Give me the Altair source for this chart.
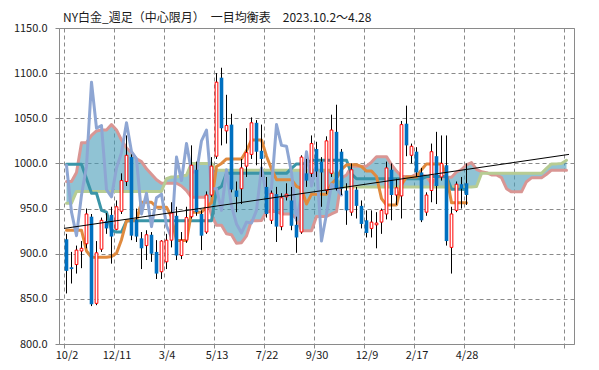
import altair as alt
import pandas as pd

title_text = "NY白金_週足（中心限月）　一目均衡表　2023.10.2～4.28"
x_tick_labels = ["10/2", "12/11", "3/4", "5/13", "7/22", "9/30", "12/9", "2/17", "4/28", "", ""]
y_ticks = [800, 850, 900, 950, 1000, 1050, 1100, 1150]

opens = [916, 885, 888, 903, 911, 941, 845, 905, 936, 943,
         927, 947, 980, 1007, 938, 917, 909, 921, 902, 880,
         891, 915, 942, 898, 915, 941, 993, 944, 924, 965,
         1008, 1095, 1036, 1043, 970, 972, 997, 1010, 1045, 1014,
         974, 937, 966, 930, 963, 959, 932, 924, 989, 989,
         1016, 1002, 970, 989, 1035, 1013, 970, 946, 971, 953,
         937, 928, 932, 935, 944, 993, 965, 964, 1044, 1009,
         1013, 990, 946, 970, 1008, 985, 998, 907, 948, 977,
         978]
highs = [922, 902, 909, 914, 950, 944, 914, 940, 945, 952,
         959, 989, 1031, 1010, 950, 924, 926, 924, 915, 915,
         922, 957, 952, 924, 952, 1020, 1002, 948, 969, 1007,
         1100, 1106, 1076, 1055, 980, 1005, 1039, 1051, 1048, 1043,
         985, 970, 974, 967, 978, 974, 941, 1009, 1005, 1031,
         1024, 1007, 1030, 1054, 1065, 1016, 978, 1000, 974, 959,
         948, 948, 946, 950, 1002, 1000, 983, 1047, 1064, 1022,
         1018, 995, 968, 1022, 1035, 1031, 1031, 952, 980, 985,
         1000]
lows = [856, 867, 878, 884, 906, 842, 843, 902, 922, 889,
        926, 944, 975, 915, 913, 883, 893, 891, 872, 872,
        883, 907, 893, 894, 912, 939, 942, 904, 922, 963,
        1005, 1020, 1022, 968, 946, 955, 985, 1005, 998, 985,
        940, 933, 913, 926, 959, 926, 901, 922, 974, 985,
        985, 952, 966, 985, 970, 965, 932, 942, 939, 928,
        918, 918, 906, 922, 938, 937, 954, 939, 1008, 1000,
        985, 935, 942, 957, 955, 981, 909, 878, 946, 950,
        954]
closes = [881, 883, 904, 906, 944, 844, 901, 937, 928, 919,
          952, 981, 1009, 920, 919, 906, 921, 900, 878, 914,
          915, 945, 898, 915, 940, 998, 946, 920, 965, 997,
          1090, 1039, 1042, 971, 963, 995, 1012, 1045, 1013, 1005,
          944, 967, 930, 962, 966, 931, 918, 1007, 981, 1022,
          991, 990, 1025, 1037, 972, 972, 948, 993, 953, 933,
          923, 935, 934, 948, 995, 965, 973, 1043, 1020, 1019,
          990, 937, 965, 1013, 975, 1000, 914, 944, 977, 972,
          965]

tenkan = [926, 926, 926, 926, 903, 896, 896, 896, 896, 897,
          900.5, 915.5, 936.5, 936.5, 937, 957, 957, 957, 951.5, 951.5,
          951.5, 941, 914.5, 914.5, 914.5, 946, 946, 946, 951.5, 956.5,
          996.5, 1000, 1005, 1005, 1005, 1005, 1014, 1026, 1026, 1026,
          1008, 994, 982, 982, 982, 982, 974.5, 972, 955, 966,
          966, 966, 966, 977.5, 983, 993.5, 998.5, 998.5, 998.5, 996.5,
          991.5, 991.5, 985.5, 961, 954, 954, 954, 976.5, 985, 985,
          985, 993, 999.5, 999.5, 999.5, 999.5, 986.5, 956.5, 956.5, 956.5,
          956.5]
kijun = [999, 999, 999, 999, 983, 967, 967, 948, 946, 926,
         924, 924, 936.5, 936.5, 936.5, 936.5, 936.5, 936.5, 936.5, 936.5,
         936.5, 936.5, 936.5, 936.5, 936.5, 936.5, 936.5, 936.5, 936.5, 936.5,
         971, 974.5, 989, 989, 989, 989, 989, 989, 989, 989,
         989, 989, 989, 989, 989, 994.5, 999.5, 999.5, 1000, 1003.5,
         1003.5, 1003.5, 1003.5, 1003.5, 1003.5, 1003.5, 1003.5, 988.5, 983, 983,
         983, 983, 983, 983, 983, 983, 983, 983, 983, 983,
         983, 983, 985.5, 985.5, 985.5, 985.5, 985.5, 971.5, 971.5, 971.5,
         971]
chikou = [998, 946, 920, 965, 997, 1090, 1039, 1042, 971, 963,
          995, 1012, 1045, 1013, 1005, 944, 967, 930, 962, 966,
          931, 918, 1007, 981, 1022, 991, 990, 1025, 1037, 972,
          972, 948, 993, 953, 933, 923, 935, 934, 948, 995,
          965, 973, 1043, 1020, 1019, 990, 937, 965, 1013, 975,
          1000, 914, 944, 977, 972, 965]
span_a = [980, 980, 990, 1023, 1023, 1031, 1036, 1037, 1037, 1043,
          1037, 1026, 1017, 1012, 1005, 1002, 994, 988, 982, 978,
          978, 978, 978, 975, 970, 962.5, 962.5, 962.5, 962.5, 943,
          931.5, 931.5, 922, 921, 911.5, 912.25, 919.75, 936.5, 936.5, 936.75,
          946.75, 946.75, 946.75, 944, 944, 944, 938.75, 925.5, 925.5, 925.5,
          941.25, 941.25, 941.25, 944, 946.5, 983.75, 987.25, 997, 997, 997,
          997, 1001.5, 1007.5, 1007.5, 1007.5, 998.5, 991.5, 985.5, 985.5, 985.5,
          988.25, 987, 985.75, 977.5, 984.75, 984.75, 984.75, 984.75, 990.5, 993.25,
          998.5, 1001, 993.5, 990.75, 989.75, 987.25, 987.25, 984.25, 972, 968.5,
          968.5, 968.5, 979.75, 984, 984, 984, 988, 992.5, 992.5, 992.5,
          992.5]
span_b = [956, 956, 969, 969, 969, 969, 969, 969, 969, 969,
          969, 969, 969, 969, 969, 969, 969, 969, 969, 969,
          983, 985, 985, 986, 987, 1000, 1000, 1000, 1000, 1000,
          992.5, 992.5, 992.5, 992.5, 992.5, 992.5, 992.5, 992.5, 992.5, 992.5,
          992.5, 992.5, 992.5, 992.5, 992.5, 992.5, 992.5, 992.5, 992.5, 992.5,
          992.5, 992.5, 992.5, 992.5, 983, 974, 974, 974, 974, 974,
          974, 974, 974, 974, 974, 974, 974, 974, 974, 974,
          974, 974, 974, 974, 974, 974, 974, 974, 974, 974,
          974, 974, 974.5, 989, 989, 989, 989, 989, 989, 989,
          989, 989, 989, 989, 989, 989, 994.5, 999.5, 999.5, 1000,
          1003.5]
trend_x = [0, 101]
trend_y = [928, 1010]

# ---------------------------------------------------------------- tables
candles = pd.DataFrame({"x": [i + 0.5 for i in range(len(opens))],
                        "o": opens, "h": highs, "l": lows, "c": closes})
lines_main = pd.DataFrame({"x": [i + 0.5 for i in range(len(tenkan))],
                           "tenkan": tenkan, "kijun": kijun})
chikou_df = pd.DataFrame({"x": [i + 0.5 for i in range(len(chikou))], "v": chikou})
spans = pd.DataFrame({"x": [i + 0.5 for i in range(len(span_a))], "a": span_a, "b": span_b})
trend_df = pd.DataFrame({"x": trend_x, "v": trend_y})

FONT = "Noto Sans CJK JP"
GRID = "#8a8a8a"
label_arr = "[" + ",".join("'" + s + "'" for s in x_tick_labels) + "]"

xscale = alt.Scale(domain=[0, 101], nice=False, zero=False)
yscale = alt.Scale(domain=[800, 1150], nice=False, zero=False)
xax = alt.Axis(values=list(range(0, 101, 10)), labelExpr=label_arr + "[round(datum.value / 10)]",
               labelOffset=2.55, labelFlush=False, labelOverlap=False,
               grid=True, gridColor=GRID, gridDash=[4, 3], gridWidth=1,
               ticks=True, tickSize=4, tickColor=GRID, domain=False,
               labelFont=FONT, labelFontSize=11, labelColor="#1a1a1a", labelPadding=1,
               labelBaseline="top", title=None)
yax = alt.Axis(values=y_ticks, format=".1f", labelOverlap=False,
               grid=True, gridColor=GRID, gridDash=[4, 3], gridWidth=1,
               ticks=True, tickSize=4, tickColor=GRID, domain=False,
               labelFont=FONT, labelFontSize=11, labelColor="#1a1a1a", labelPadding=8, title=None)


def X(f="x"):
    return alt.X(f + ":Q", scale=xscale, axis=xax)


def Y(f):
    return alt.Y(f + ":Q", scale=yscale, axis=yax)


cloud = alt.Chart(spans).mark_area(color="#469BB7", opacity=0.6).encode(x=X(), y=Y("a"), y2="b:Q")
line_kw = dict(strokeWidth=3, strokeJoin="round", strokeCap="round")
span_a_line = alt.Chart(spans).mark_line(color="#D99694", **line_kw).encode(x=X(), y=Y("a"))
span_b_line = alt.Chart(spans).mark_line(color="#B7CC93", **line_kw).encode(x=X(), y=Y("b"))
kijun_line = alt.Chart(lines_main).mark_line(color="#3A95A8", **line_kw).encode(x=X(), y=Y("kijun"))
tenkan_line = alt.Chart(lines_main).mark_line(color="#E08A3E", **line_kw).encode(x=X(), y=Y("tenkan"))
chikou_line = alt.Chart(chikou_df).mark_line(color="#8EA6D3", **line_kw).encode(x=X(), y=Y("v"))

wicks = alt.Chart(candles).mark_rule(color="black", strokeWidth=1).encode(x=X(), y=Y("l"), y2="h:Q")
down = alt.Chart(candles).transform_filter("datum.c < datum.o").mark_bar(
    width=3.6, color="#0070C0", orient="vertical").encode(x=X(), y=Y("o"), y2="c:Q")
up = alt.Chart(candles).transform_filter("datum.c >= datum.o").mark_bar(
    width=2.7, fill="white", stroke="#FF0000", strokeWidth=1, orient="vertical").encode(x=X(), y=Y("o"), y2="c:Q")
trend = alt.Chart(trend_df).mark_line(color="black", strokeWidth=1).encode(x=X(), y=Y("v"))

title = alt.Chart(pd.DataFrame({"t": [title_text]})).mark_text(
    align="left", baseline="top", font=FONT, fontSize=12, color="#1a1a1a"
).encode(text="t:N", x=alt.value(4), y=alt.value(-15.5))

chart = alt.layer(
    cloud, span_a_line, span_b_line, kijun_line, tenkan_line, chikou_line,
    wicks, down, up, trend, title
).properties(
    width=515, height=316,
    padding={"left": 51, "top": 20, "right": 16, "bottom": 18},
    autosize=alt.AutoSizeParams(type="none"),
    background="white",
).configure_view(stroke=GRID, strokeWidth=1)

chart.save("out.html", embed_options={"renderer": "svg", "actions": False})
